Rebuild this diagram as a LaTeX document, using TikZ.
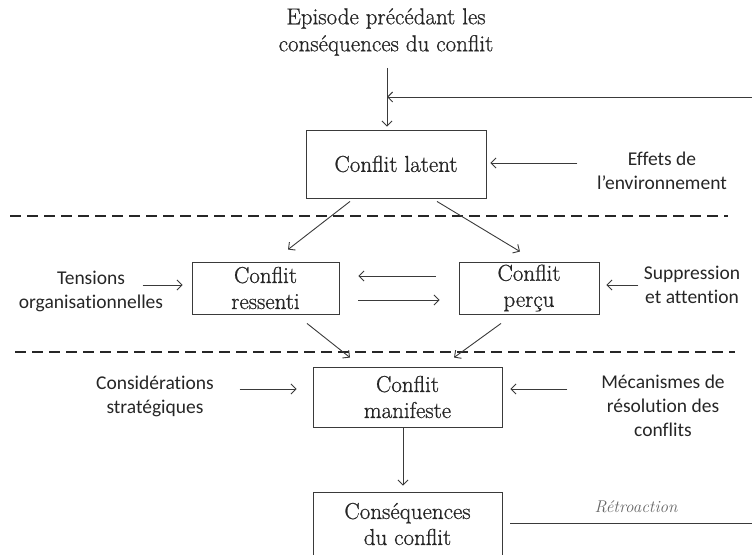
\documentclass[tikz,border=0pt]{standalone}
\usepackage{fontspec}
\newfontfamily\labfont{Carlito}[Ligatures=NoCommon]
\newfontfamily\serfont{Latin Modern Roman}[FakeBold=0.8]
\usetikzlibrary{arrows.meta}
\definecolor{ink}{HTML}{3A3A3A}
\definecolor{txt}{HTML}{262626}
\begin{document}
\begin{tikzpicture}[x=1pt,y=1pt,
  box/.style={draw=ink, line width=0.9pt, inner sep=0pt, align=center, text=txt,
    font=\serfont\fontsize{23}{26}\selectfont},
  serif/.style={align=center, text=txt, font=\serfont\fontsize{23}{27}\selectfont},
  lab/.style={align=center, text=txt, font=\labfont\fontsize{19.5}{24}\selectfont},
  arr/.style={draw=ink, line width=0.9pt, -{Straight Barb[length=5pt,width=10pt]}},
  ln/.style={draw=ink, line width=0.9pt},
  dash line/.style={draw=black!85, line width=2.6pt, dash pattern=on 11pt off 6pt}]
\useasboundingbox (0,0) rectangle (752,554);
% boxes
\node[box, minimum width=180, minimum height=68] (lat) at (396,390) {Conflit latent};
\node[box, minimum width=147, minimum height=52] (ress) at (265.5,266) {Conflit\\ressenti};
\node[box, minimum width=140, minimum height=52] (perc) at (529,266) {Conflit\\perçu};
\node[box, minimum width=189, minimum height=60] (man) at (407.5,157) {Conflit\\manifeste};
\node[box, minimum width=189, minimum height=64] (cons) at (407.5,30) {Conséquences\\du conflit};
% labels
\node[serif] (ep) at (386,522) {Episode précédant les\\conséquences du conflit};
\node[lab] (eff) at (662,383) {Effets de\\l’environnement};
\node[lab] (tens) at (91,263) {Tensions\\organisationnelles};
\node[lab] (supp) at (692,269) {Suppression\\et attention};
\node[lab] (cstr) at (155,158) {Considérations\\stratégiques};
\node[lab] (meca) at (663,148) {Mécanismes de\\résolution des\\conflits};
\node[text=black!60, font=\itshape\fontsize{17}{20}\selectfont] (retro) at (636,47) {Rétroaction};
% coordinates
\coordinate (epb) at (387,486);
\coordinate (fbTR) at (752,457);
\coordinate (fbJ) at (387,457);
\coordinate (fbBR) at (752,31);
\coordinate (d1a) at (10,338);
\coordinate (d1b) at (728,338);
\coordinate (d2a) at (15,202);
\coordinate (d2b) at (735,202);
% dashed separators
\draw[dash line] (d1a) -- (d1b);
\draw[dash line] (d2a) -- (d2b);
% feedback
\draw[arr] (epb) -- ([yshift=3pt]lat.north -| epb);
\draw[arr] (fbTR) -- (fbJ);
\draw[ln] ([shift={(8,1)}]cons.east) -- (fbBR);
% flows
\draw[arr] ([shift={(-46,-3)}]lat.south) -- ([shift={(22.5,12)}]ress.north);
\draw[arr] ([shift={(41,-3)}]lat.south) -- ([shift={(-9,10)}]perc.north);
\draw[arr] ([shift={(-23,12)}]perc.west) -- ([shift={(19,12)}]ress.east);
\draw[arr] ([shift={(19,-12)}]ress.east) -- ([shift={(-19,-12)}]perc.west);
\draw[arr] ([shift={(41.5,-9)}]ress.south) -- ([shift={(-57.5,9)}]man.north);
\draw[arr] ([shift={(-28,-9)}]perc.south) -- ([shift={(46.5,9)}]man.north);
\draw[arr] ([shift={(-4.5,-1)}]man.south) -- ([shift={(-4.5,6)}]cons.north);
% influences
\draw[arr] ([shift={(91,1)}]lat.east) -- ([shift={(4,1)}]lat.east);
\draw[arr] ([shift={(-49,3)}]ress.west) -- ([shift={(-9,3)}]ress.west);
\draw[arr] ([shift={(39,3)}]perc.east) -- ([shift={(7,3)}]perc.east);
\draw[arr] ([shift={(-73,8)}]man.west) -- ([shift={(-16,8)}]man.west);
\draw[arr] ([shift={(65,8)}]man.east) -- ([shift={(8,8)}]man.east);
\end{tikzpicture}
\end{document}
